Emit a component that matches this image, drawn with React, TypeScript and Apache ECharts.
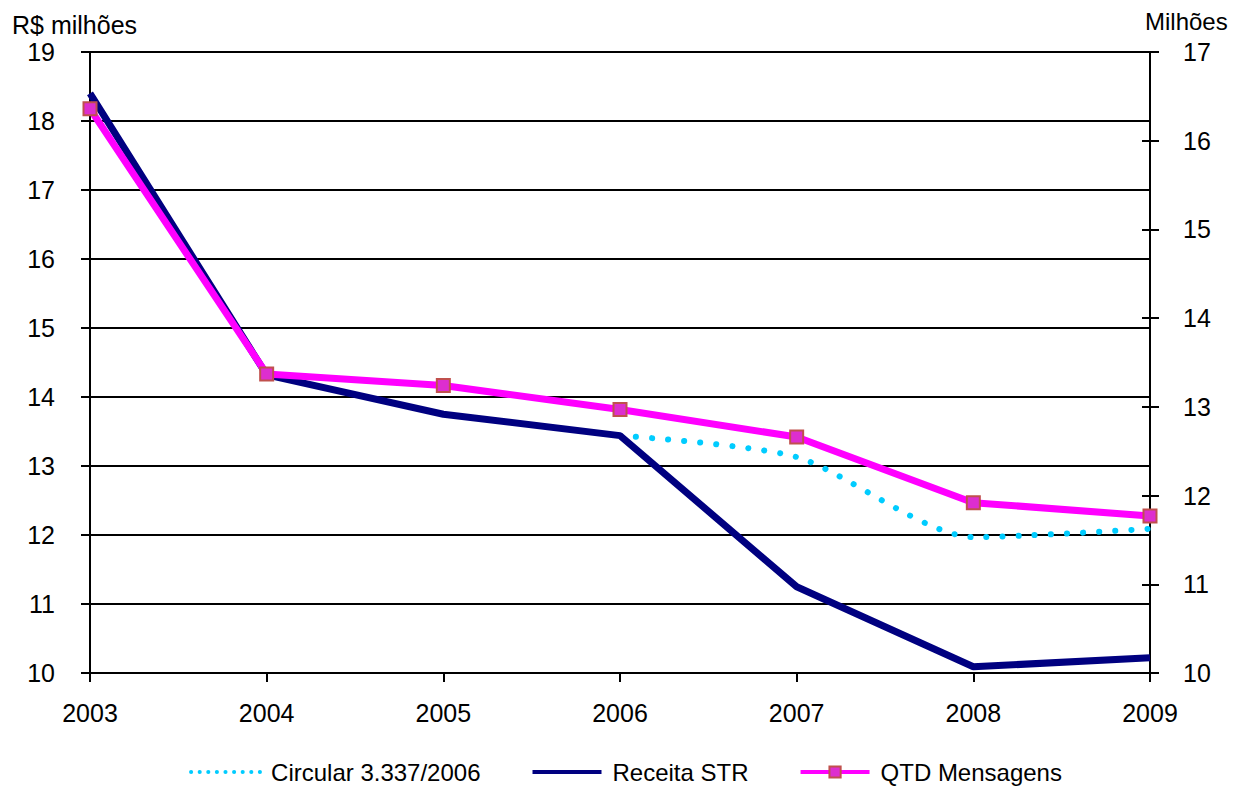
import React, { useEffect, useRef } from "react";
import * as echarts from "echarts";

const years = ["2003", "2004", "2005", "2006", "2007", "2008", "2009"];
const circular = [null, null, null, 13.44, 13.13, 11.97, 12.09];
const receitaSTR = [18.4, 14.32, 13.75, 13.44, 11.25, 10.09, 10.22];
const qtdMensagens = [16.36, 13.37, 13.24, 12.97, 12.66, 11.92, 11.77];

const FONT = "Liberation Sans, Arial, sans-serif";
const FS = 25;

export default function App() {
  const ref = useRef<HTMLDivElement>(null);
  useEffect(() => {
    if (!ref.current) return;
    const chart = echarts.init(ref.current, null, { renderer: "svg" });
    const axisLine = { show: true, lineStyle: { color: "#000", width: 2 } };
    chart.setOption({
      animation: false,
      backgroundColor: "#fff",
      textStyle: { fontFamily: FONT },
      grid: { left: 90, right: 101, top: 52, bottom: 116, containLabel: false },
      legend: {
        top: 754,
        left: "center",
        itemWidth: 69,
        itemHeight: 14,
        itemGap: 50,
        textStyle: { fontFamily: FONT, fontSize: 24, lineHeight: 26, color: "#000", padding: [0, 0, 0, 6] },
        data: [
          {
            name: "Circular 3.337/2006",
            itemStyle: { opacity: 0 },
            lineStyle: { color: "#00CCFF", width: 4, type: [0.1, 8.5], cap: "round" },
          },
          { name: "Receita STR", itemStyle: { opacity: 0 }, lineStyle: { color: "#000080", width: 4 } },
          { name: "QTD Mensagens", lineStyle: { color: "#FF00FF", width: 4 } },
        ],
      },
      graphic: [
        { type: "text", left: 12, top: 12, style: { text: "R$ milhões", font: `${FS}px ${FONT}`, fill: "#000" } },
        { type: "text", left: 1145, top: 9, style: { text: "Milhões", font: `${FS - 1}px ${FONT}`, fill: "#000" } },
      ],
      xAxis: {
        type: "category",
        data: years,
        boundaryGap: false,
        axisLine,
        axisTick: { show: true, length: 9, alignWithLabel: true, lineStyle: { color: "#000", width: 2 } },
        axisLabel: { fontSize: FS, color: "#000", margin: 27, fontFamily: FONT },
        splitLine: { show: false },
      },
      yAxis: [
        {
          type: "value",
          position: "left",
          min: 10,
          max: 19,
          interval: 1,
          axisLine,
          axisTick: { show: true, length: 9, lineStyle: { color: "#000", width: 2 } },
          axisLabel: { fontSize: FS, color: "#000", margin: 35, fontFamily: FONT },
          splitLine: { show: true, lineStyle: { color: "#000", width: 2 } },
        },
        {
          type: "value",
          position: "right",
          min: 10,
          max: 17,
          interval: 1,
          axisLine,
          axisTick: { show: true, length: 9, lineStyle: { color: "#000", width: 2 } },
          axisLabel: { fontSize: FS, color: "#000", margin: 33, fontFamily: FONT },
          splitLine: { show: false },
        },
        {
          type: "value",
          position: "right",
          min: 10,
          max: 17,
          interval: 1,
          axisLine: { show: false },
          axisTick: { show: true, inside: true, length: 8, lineStyle: { color: "#000", width: 2 } },
          axisLabel: { show: false },
          splitLine: { show: false },
        },
      ],
      series: [
        {
          name: "Circular 3.337/2006",
          type: "line",
          yAxisIndex: 0,
          data: circular,
          showSymbol: false,
          symbol: "none",
          smooth: 0.25,
          lineStyle: { color: "#00CCFF", width: 6, type: [0.1, 16], cap: "round" },
          itemStyle: { color: "#00CCFF" },
          z: 2,
        },
        {
          name: "Receita STR",
          type: "line",
          yAxisIndex: 0,
          data: receitaSTR,
          symbol: "none",
          lineStyle: { color: "#000080", width: 7 },
          itemStyle: { color: "#000080" },
          z: 3,
        },
        {
          name: "QTD Mensagens",
          type: "line",
          yAxisIndex: 1,
          data: qtdMensagens,
          symbol: "rect",
          symbolSize: 13,
          lineStyle: { color: "#FF00FF", width: 7 },
          itemStyle: { color: "#DD2ECF", borderColor: "#C0504D", borderWidth: 2 },
          z: 4,
        },
      ],
    });
    return () => chart.dispose();
  }, []);
  return (
    <div
      ref={ref}
      style={{ position: "fixed", left: 0, top: 0, width: 1251, height: 789, background: "#fff" }}
    />
  );
}
